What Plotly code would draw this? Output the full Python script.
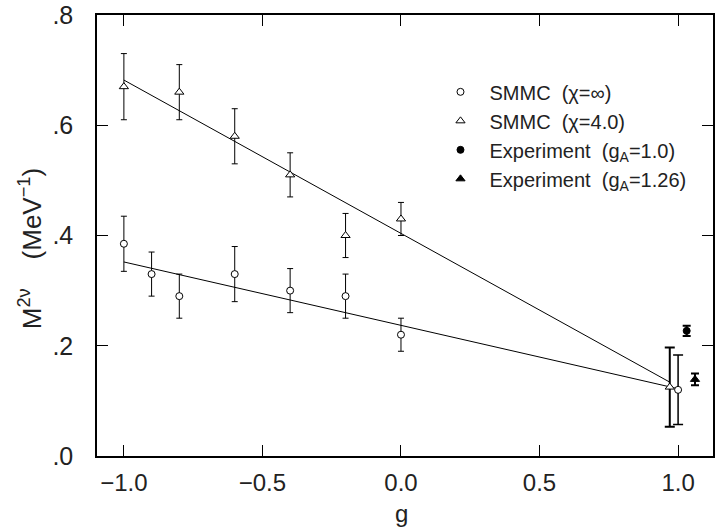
import plotly.graph_objects as go

# SMMC (chi = infinity) -- open circles
g_inf = [-1.0, -0.9, -0.8, -0.6, -0.4, -0.2, 0.0]
m_inf = [0.385, 0.330, 0.290, 0.330, 0.300, 0.290, 0.220]
e_inf = [0.050, 0.040, 0.040, 0.050, 0.040, 0.040, 0.030]
# extrapolated point at g = 1
g_inf_x = [1.0]
m_inf_x = [0.120]
e_inf_x = [0.063]

# SMMC (chi = 4.0) -- open triangles
g_4 = [-1.0, -0.8, -0.6, -0.4, -0.2, 0.0]
m_4 = [0.670, 0.660, 0.580, 0.510, 0.400, 0.430]
e_4 = [0.060, 0.050, 0.050, 0.040, 0.040, 0.030]
g_4_x = [0.97]
m_4_x = [0.125]
e_4_x = [0.072]

# linear fits
fit_inf_g = [-1.0, 1.0]
fit_inf_m = [0.352, 0.122]
fit_4_g = [-1.0, 0.97]
fit_4_m = [0.682, 0.134]

# Experiment
g_exp1 = [1.031]
m_exp1 = [0.227]
e_exp1 = [0.0095]
g_exp2 = [1.061]
m_exp2 = [0.139]
e_exp2 = [0.0105]

x_ticks = [-1.0, -0.5, 0.0, 0.5, 1.0]
x_ticktext = ["\u22121.0", "\u22120.5", "0.0", "0.5", "1.0"]
y_ticks = [0.0, 0.2, 0.4, 0.6, 0.8]
y_ticktext = [".0", ".2", ".4", ".6", ".8"]

FONT = "Liberation Sans, Arial, sans-serif"
TXT = "#222222"

fig = go.Figure()

fig.add_trace(go.Scatter(x=fit_inf_g, y=fit_inf_m, mode="lines",
                         line=dict(color="black", width=1), showlegend=False, hoverinfo="skip"))
fig.add_trace(go.Scatter(x=fit_4_g, y=fit_4_m, mode="lines",
                         line=dict(color="black", width=1), showlegend=False, hoverinfo="skip"))

fig.add_trace(go.Scatter(
    x=g_inf, y=m_inf, mode="markers", name="SMMC  (\u03c7=\u221e)",
    marker=dict(symbol="circle", size=7, color="white", line=dict(color="black", width=1)),
    error_y=dict(type="data", array=e_inf, visible=True, color="black", thickness=1, width=3)))
fig.add_trace(go.Scatter(
    x=g_4, y=m_4, mode="markers", name="SMMC  (\u03c7=4.0)",
    marker=dict(symbol="triangle-up", size=8, color="white", line=dict(color="black", width=1)),
    error_y=dict(type="data", array=e_4, visible=True, color="black", thickness=1, width=3)))
fig.add_trace(go.Scatter(
    x=g_exp1, y=m_exp1, mode="markers", name="Experiment  (g<sub>A</sub>=1.0)",
    marker=dict(symbol="circle", size=7, color="black", line=dict(color="black", width=1)),
    error_y=dict(type="data", array=e_exp1, visible=True, color="black", thickness=2, width=4)))
fig.add_trace(go.Scatter(
    x=g_exp2, y=m_exp2, mode="markers", name="Experiment  (g<sub>A</sub>=1.26)",
    marker=dict(symbol="triangle-up", size=8, color="black", line=dict(color="black", width=1)),
    error_y=dict(type="data", array=e_exp2, visible=True, color="black", thickness=2, width=4)))

fig.add_trace(go.Scatter(
    x=g_4_x, y=m_4_x, mode="markers", showlegend=False,
    marker=dict(symbol="triangle-up", size=8, color="white", line=dict(color="black", width=1)),
    error_y=dict(type="data", array=e_4_x, visible=True, color="black", thickness=2, width=5)))
fig.add_trace(go.Scatter(
    x=g_inf_x, y=m_inf_x, mode="markers", showlegend=False,
    marker=dict(symbol="circle", size=7, color="white", line=dict(color="black", width=1)),
    error_y=dict(type="data", array=e_inf_x, visible=True, color="black", thickness=1.5, width=5)))

axis_common = dict(showline=True, linecolor="black", linewidth=1.5, mirror="ticks",
                   ticks="inside", ticklen=11, tickwidth=1, tickcolor="black",
                   showgrid=False, zeroline=False, ticklabeloverflow="allow")

fig.update_xaxes(range=[-1.097, 1.126], tickvals=x_ticks, ticktext=x_ticktext,
                 ticklabelstandoff=4, tickfont=dict(family=FONT, size=24, color=TXT),
                 **axis_common)
fig.update_yaxes(range=[0.0, 0.8], tickvals=y_ticks, ticktext=y_ticktext,
                 ticklabelstandoff=17, tickfont=dict(family=FONT, size=25, color=TXT),
                 **axis_common)

fig.add_annotation(text="M<sup>2\u03bd</sup>\u00a0\u00a0\u00a0\u00a0(MeV<sup>\u22121</sup>)",
                   xref="paper", yref="paper", x=-0.108, y=0.47, textangle=-90,
                   showarrow=False, xanchor="center", yanchor="middle",
                   font=dict(family=FONT, size=26, color=TXT))
fig.add_annotation(text="g", xref="paper", yref="paper", x=0.495, y=-0.131,
                   showarrow=False, xanchor="center", yanchor="middle",
                   font=dict(family=FONT, size=24, color=TXT))

fig.update_layout(
    width=716, height=531,
    margin=dict(l=97, r=1, t=13, b=75),
    plot_bgcolor="white", paper_bgcolor="white",
    legend=dict(x=0.543, y=0.87, xanchor="left", yanchor="top",
                bgcolor="rgba(0,0,0,0)", itemwidth=48,
                font=dict(family=FONT, size=20, color=TXT),
                tracegroupgap=0),
)

fig.write_html("out.html")
